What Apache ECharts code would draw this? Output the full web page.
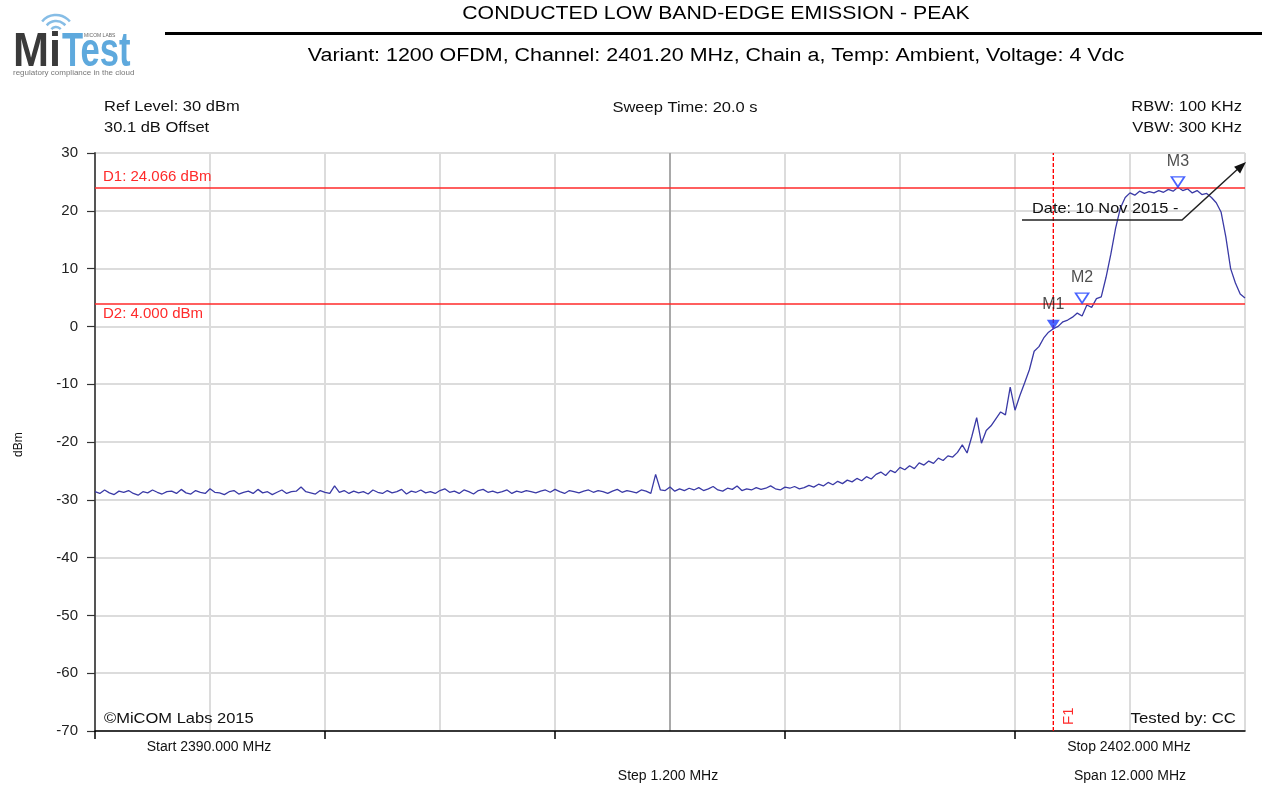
<!DOCTYPE html>
<html>
<head>
<meta charset="utf-8">
<script src="https://cdn.jsdelivr.net/npm/echarts@6/dist/echarts.min.js"></script>
<style>
html,body{margin:0;padding:0;background:#fff;}
#chart{width:1262px;height:788px;}
</style>
</head>
<body>
<div id="chart"></div>
<script>
// ---- data ----
var startFreq = 2390.0;      // MHz
var stopFreq = 2402.0;       // MHz
var stepFreq = 0.05;         // MHz between sweep points
var gridStep = 1.2;          // MHz per division
var yTicks = [-70, -60, -50, -40, -30, -20, -10, 0, 10, 20, 30];
var traceDbm = [
  -28.6,-28.9,-28.3,-28.8,-29.1,-28.5,-28.7,-28.4,-28.9,-29.2,
  -28.6,-28.8,-28.3,-28.7,-29.0,-28.6,-28.5,-28.9,-28.2,-28.8,
  -29.0,-28.4,-28.7,-28.9,-28.1,
  -28.7,-28.8,-29.1,-28.6,-28.4,-29.0,-28.7,-28.5,-28.9,-28.2,
  -28.8,-28.6,-29.1,-28.7,-28.3,-28.9,-28.6,-28.5,-27.8,-28.6,
  -28.8,-29.0,-28.4,-28.7,-28.9,
  -27.6,-28.7,-28.4,-28.9,-28.5,-28.8,-28.6,-29.0,-28.3,-28.7,
  -28.9,-28.4,-28.8,-28.6,-28.2,-29.0,-28.5,-28.7,-28.3,-28.8,
  -28.6,-28.9,-28.4,-28.1,-28.7,
  -28.5,-28.9,-28.3,-28.6,-29.0,-28.4,-28.2,-28.7,-28.5,-28.8,
  -28.6,-28.3,-28.9,-28.5,-28.7,-28.4,-28.6,-28.8,-28.5,-28.3,
  -28.7,-28.2,-28.6,-28.9,-28.4,
  -28.6,-28.8,-28.5,-28.3,-28.7,-28.4,-28.6,-28.9,-28.5,-28.2,
  -28.7,-28.4,-28.6,-28.8,-28.3,-28.5,-28.9,-25.6,-28.3,-28.4,
  -27.8,-28.5,-28.1,-28.4,-28.0,
  -28.3,-27.9,-28.4,-28.1,-27.7,-28.3,-28.5,-28.0,-28.2,-27.6,
  -28.4,-28.1,-28.3,-27.9,-28.2,-28.0,-27.6,-28.1,-28.3,-27.8,
  -28.0,-27.7,-28.1,-27.9,-27.5,
  -27.8,-27.3,-27.6,-27.0,-27.4,-26.8,-27.2,-26.6,-26.9,-26.3,
  -26.7,-26.0,-26.4,-25.6,-25.2,-25.8,-24.9,-25.3,-24.4,-24.8,
  -24.1,-24.6,-23.6,-24.0,-23.3,
  -23.7,-22.8,-23.2,-22.4,-22.6,-21.8,-20.5,-21.9,-19.0,-15.8,
  -20.2,-18.0,-17.2,-16.0,-14.8,-15.3,-10.5,-14.5,-12.0,-9.8,
  -7.5,-4.3,-3.5,-2.0,-1.0,
  -0.4,0.0,0.8,1.1,1.6,2.3,1.8,3.7,3.3,4.8,
  5.1,8.5,12.5,17.0,20.5,22.3,23.1,22.7,23.4,23.0,
  23.3,23.1,23.5,23.2,23.7,23.4,24.07,23.5,23.8,23.1,
  23.5,22.8,23.0,22.3,21.4,19.8,15.5,10.0,7.5,5.6,
  4.9
];
var lineNames = ['D1: 24.066 dBm', 'D2: 4.000 dBm'];
var lineLevels = [24.066, 4.000];
var f1Name = 'F1';
var f1Freq = 2400.0;
var markerNames = ['M1', 'M2', 'M3'];
var markerFreq = [2400.0, 2400.3, 2401.3];
var markerDbm = [0.3, 4.9, 25.0];
var markerFilled = [true, false, false];
var majorTickOffsets = [0, 2.4, 4.8, 7.2, 9.6];

// ---- build ----
var tracePts = traceDbm.map(function (v, i) { return [i * stepFreq, v]; });
var span = stopFreq - startFreq;
var yMin = yTicks[0], yMax = yTicks[yTicks.length - 1];
var splitColors = [];
for (var k = 0; k <= Math.round(span / gridStep); k++) splitColors.push(k === 5 ? '#a9a9a9' : '#dcdcdc');

var BLUE = '#3a3aa6';
var RED = '#ff2a2a';
var FONT = 'Liberation Sans';
var LOGO_FONT = 'bold 48px "Liberation Sans"';

var chart = echarts.init(document.getElementById('chart'), null, {renderer: 'canvas'});
var option = {
  animation: false,
  backgroundColor: '#ffffff',
  grid: {left: 95, right: 17, top: 153, bottom: 57, containLabel: false},
  xAxis: [{
    type: 'value', min: 0, max: span, interval: gridStep,
    axisLabel: {show: false},
    axisLine: {show: true, onZero: false, lineStyle: {color: '#000', width: 1.5}},
    axisTick: {show: false},
    splitLine: {show: true, lineStyle: {color: splitColors, width: 2}}
  }, {
    type: 'value', min: 0, max: span, position: 'bottom',
    axisLabel: {show: false},
    axisLine: {show: false, onZero: false},
    axisTick: {show: true, customValues: majorTickOffsets, length: 8, lineStyle: {color: '#000', width: 1.5}},
    splitLine: {show: false}
  }],
  yAxis: {
    type: 'value', min: yMin, max: yMax, interval: 10,
    axisLine: {show: true, lineStyle: {color: '#555', width: 2}},
    axisTick: {show: true, length: 8, lineStyle: {color: '#333', width: 1.2}},
    axisLabel: {fontFamily: FONT, fontSize: 15, color: '#222', margin: 17},
    splitLine: {show: true, lineStyle: {color: '#dcdcdc', width: 2}}
  },
  series: [
    {
      type: 'line', data: tracePts, showSymbol: false, symbol: 'none',
      lineStyle: {color: BLUE, width: 1.3},
      z: 3,
      markLine: {
        silent: true, symbol: 'none', animation: false,
        data: [
          {yAxis: lineLevels[0], lineStyle: {color: RED, width: 1.5, type: 'solid'},
           label: {show: true, position: 'insideStartTop', formatter: lineNames[0], color: RED, fontFamily: FONT, fontSize: 15, distance: [8, 3]}},
          {yAxis: lineLevels[1], lineStyle: {color: RED, width: 1.5, type: 'solid'},
           label: {show: true, position: 'insideStartBottom', formatter: lineNames[1], color: RED, fontFamily: FONT, fontSize: 15, distance: [8, 3]}},
          {xAxis: f1Freq - startFreq, lineStyle: {color: 'rgba(0,0,0,0)', width: 0},
           label: {show: true, position: 'insideStartBottom', formatter: f1Name, color: RED, fontFamily: FONT, fontSize: 15, distance: [6, 8]}}
        ]
      }
    },
    {
      type: 'line', z: 4, showSymbol: false, symbol: 'none', silent: true,
      data: [[f1Freq - startFreq, yMin], [f1Freq - startFreq, yMax]],
      lineStyle: {color: '#ff0000', width: 1.4, type: [4, 2]}
    },
    {
      type: 'scatter', z: 5,
      symbol: 'triangle', symbolRotate: 180, symbolSize: [13, 10],
      data: markerFreq.map(function (f, i) {
        return {
          value: [f - startFreq, markerDbm[i]], name: markerNames[i],
          itemStyle: markerFilled[i] ? {color: '#1a3cff'} : {color: '#ffffff', borderColor: '#1a3cff', borderWidth: 1.6}
        };
      }),
      label: {show: true, position: 'top', distance: 7, formatter: function (p) { return p.name; },
        color: '#222', fontFamily: FONT, fontSize: 16}
    }
  ],
  graphic: [
    // logo
    {type: 'arc', shape: {cx: 56, cy: 33, r: 6, startAngle: -Math.PI * 0.78, endAngle: -Math.PI * 0.22}, style: {stroke: '#86bde6', lineWidth: 2.5, fill: null}},
    {type: 'arc', shape: {cx: 56, cy: 33, r: 12, startAngle: -Math.PI * 0.78, endAngle: -Math.PI * 0.22}, style: {stroke: '#86bde6', lineWidth: 2.5, fill: null}},
    {type: 'arc', shape: {cx: 56, cy: 33, r: 18, startAngle: -Math.PI * 0.78, endAngle: -Math.PI * 0.22}, style: {stroke: '#86bde6', lineWidth: 2.5, fill: null}},
    {type: 'text', x: 13, y: 29, scaleX: 0.9, style: {text: 'Mi', font: LOGO_FONT, fill: '#3a3a3a', verticalAlign: 'top'}},
    {type: 'text', x: 62, y: 29, scaleX: 0.72, style: {text: 'Test', font: LOGO_FONT, fill: '#5ea9dd', verticalAlign: 'top'}},
    {type: 'text', x: 84, y: 33, style: {text: 'MICOM LABS', font: '5px "Liberation Sans"', fill: '#666'}},
    {type: 'text', x: 13, y: 69, style: {text: 'regulatory compliance in the cloud', font: '8px "Liberation Sans"', fill: '#777'}},
    // header
    {type: 'text', x: 716, y: 5, scaleX: 1.18, style: {text: 'CONDUCTED LOW BAND-EDGE EMISSION - PEAK', font: '18px "Liberation Sans"', fill: '#000', align: 'center'}},
    {type: 'rect', shape: {x: 165, y: 32, width: 1097, height: 3}, style: {fill: '#000'}},
    {type: 'text', x: 716, y: 47, scaleX: 1.19, style: {text: 'Variant: 1200 OFDM, Channel: 2401.20 MHz, Chain a, Temp: Ambient, Voltage: 4 Vdc', font: '18px "Liberation Sans"', fill: '#000', align: 'center'}},
    // info
    {type: 'text', x: 104, y: 99, scaleX: 1.1, style: {text: 'Ref Level: 30 dBm', font: '15px "Liberation Sans"', fill: '#111'}},
    {type: 'text', x: 104, y: 120, scaleX: 1.1, style: {text: '30.1 dB Offset', font: '15px "Liberation Sans"', fill: '#111'}},
    {type: 'text', x: 685, y: 100, scaleX: 1.1, style: {text: 'Sweep Time: 20.0 s', font: '15px "Liberation Sans"', fill: '#111', align: 'center'}},
    {type: 'text', x: 1242, y: 99, scaleX: 1.1, style: {text: 'RBW: 100 KHz', font: '15px "Liberation Sans"', fill: '#111', align: 'right'}},
    {type: 'text', x: 1242, y: 120, scaleX: 1.1, style: {text: 'VBW: 300 KHz', font: '15px "Liberation Sans"', fill: '#111', align: 'right'}},
    // y axis name
    {type: 'text', x: 13, y: 457, rotation: Math.PI / 2, style: {text: 'dBm', font: '12px "Liberation Sans"', fill: '#111'}},
    // bottom
    {type: 'text', x: 104, y: 711, z: 10, scaleX: 1.1, style: {text: '\u00A9MiCOM Labs 2015', font: '15px "Liberation Sans"', fill: '#111'}},
    {type: 'text', x: 1236, y: 711, z: 10, scaleX: 1.12, style: {text: 'Tested by: CC', font: '15px "Liberation Sans"', fill: '#111', align: 'right'}},
    {type: 'text', x: 209, y: 740, style: {text: 'Start 2390.000 MHz', font: '14px "Liberation Sans"', fill: '#111', align: 'center'}},
    {type: 'text', x: 1129, y: 740, style: {text: 'Stop 2402.000 MHz', font: '14px "Liberation Sans"', fill: '#111', align: 'center'}},
    {type: 'text', x: 668, y: 769, style: {text: 'Step 1.200 MHz', font: '14px "Liberation Sans"', fill: '#111', align: 'center'}},
    {type: 'text', x: 1130, y: 769, style: {text: 'Span 12.000 MHz', font: '14px "Liberation Sans"', fill: '#111', align: 'center'}},
    // date annotation
    {type: 'text', x: 1032, y: 201, z: 10, scaleX: 1.09, style: {text: 'Date: 10 Nov 2015 -', font: '15px "Liberation Sans"', fill: '#111'}},
    {type: 'polyline', z: 10, shape: {points: [[1022, 220], [1182, 220], [1240, 167]]}, style: {stroke: '#222', lineWidth: 1.5, fill: null}},
    {type: 'polygon', z: 10, shape: {points: [[1246, 162], [1240.1, 173.4], [1234.1, 166.7]]}, style: {fill: '#111'}}
  ]
};
chart.setOption(option);
</script>
</body>
</html>
